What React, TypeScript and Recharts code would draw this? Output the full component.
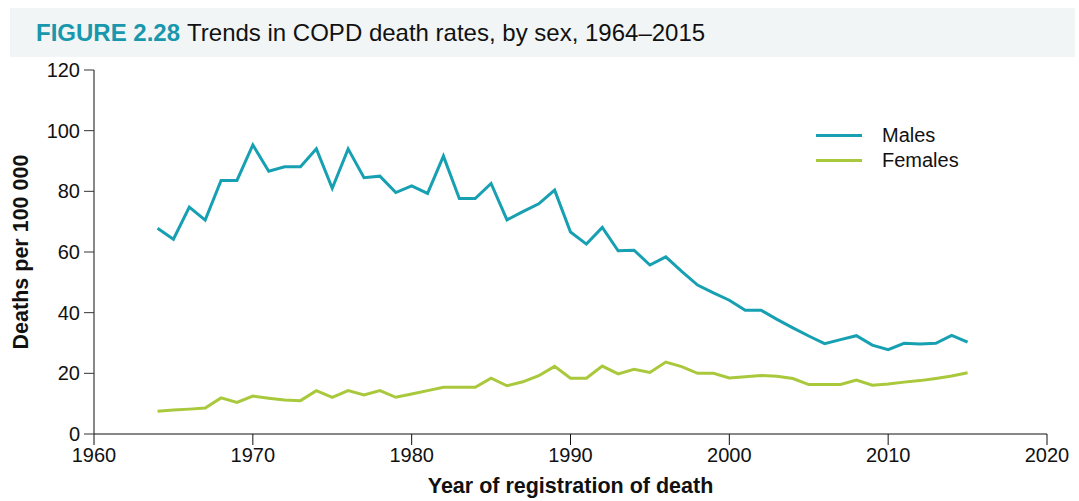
import { LineChart, Line, XAxis, YAxis } from 'recharts'

const years = [
  1964, 1965, 1966, 1967, 1968, 1969, 1970, 1971, 1972, 1973, 1974, 1975, 1976,
  1977, 1978, 1979, 1980, 1981, 1982, 1983, 1984, 1985, 1986, 1987, 1988, 1989,
  1990, 1991, 1992, 1993, 1994, 1995, 1996, 1997, 1998, 1999, 2000, 2001, 2002,
  2003, 2004, 2005, 2006, 2007, 2008, 2009, 2010, 2011, 2012, 2013, 2014, 2015,
]

const males = [
  67.8, 64.2, 74.8, 70.5, 83.6, 83.6, 95.3, 86.6, 88.1, 88.1, 94, 81, 94,
  84.5, 85, 79.6, 81.8, 79.3, 91.6, 77.6, 77.6, 82.6, 70.6, 73.3, 75.9, 80.4,
  66.6, 62.6, 68.1, 60.4, 60.6, 55.7, 58.4, 53.6, 49.1, 46.5, 44.1, 40.8, 40.8,
  37.8, 35, 32.3, 29.8, 31.1, 32.4, 29.3, 27.8, 29.9, 29.7, 29.9, 32.5, 30.3,
]

const females = [
  7.5, 7.9, 8.2, 8.6, 11.9, 10.4, 12.5, 11.8, 11.2, 11, 14.3, 12.1, 14.3,
  12.9, 14.3, 12.1, 13.2, 14.3, 15.4, 15.4, 15.4, 18.4, 15.9, 17.2, 19.2, 22.3,
  18.4, 18.4, 22.4, 19.8, 21.3, 20.3, 23.7, 22.2, 20, 20, 18.5, 18.9, 19.3,
  19, 18.3, 16.3, 16.3, 16.3, 17.8, 16.1, 16.5, 17.1, 17.6, 18.3, 19.1, 20.2,
]

const xTicks = [1960, 1970, 1980, 1990, 2000, 2010, 2020]
const yTicks = [0, 20, 40, 60, 80, 100, 120]

const MALE = '#16a0b2'
const FEMALE = '#a9c83c'
const FONT = '"Liberation Sans", Arial, Helvetica, sans-serif'

const data = years.map((year, i) => ({ year, males: males[i], females: females[i] }))

const legendItems = [
  { name: 'Males', color: MALE },
  { name: 'Females', color: FEMALE },
]

export default function App() {
  const tickStyle = { fontFamily: FONT, fontSize: 20, fill: '#111' }
  const labelStyle = { fontFamily: FONT, fontSize: 21.5, fontWeight: 'bold', fill: '#111' }
  return (
    <div style={{ position: 'absolute', left: 0, top: 0, width: 1079, height: 501, background: '#fff' }}>
      <div
        style={{
          position: 'absolute',
          left: 10,
          top: 8,
          width: 1065,
          height: 49,
          background: '#f1f5f6',
          fontFamily: FONT,
          fontSize: 24,
          lineHeight: '50px',
          paddingLeft: 26,
          boxSizing: 'border-box',
          color: '#111',
        }}
      >
        <span style={{ color: '#1897ad', fontWeight: 'bold' }}>FIGURE 2.28</span>
        <span style={{ marginLeft: 7 }}>Trends in COPD death rates, by sex, 1964–2015</span>
      </div>
      <LineChart
        width={1079}
        height={501}
        data={data}
        margin={{ top: 70, right: 32, bottom: 7, left: 0 }}
        style={{ position: 'absolute', left: 0, top: 0 }}
      >
        <XAxis
          dataKey="year"
          type="number"
          domain={[1960, 2020]}
          ticks={xTicks}
          interval={0}
          height={60}
          fontSize={20}
          fontFamily={FONT}
          tick={tickStyle}
          tickSize={11}
          tickMargin={3}
          stroke="#111"
          tickLine={{ stroke: '#111' }}
          label={{
            value: 'Year of registration of death',
            position: 'insideBottom',
            offset: 1,
            style: labelStyle,
          }}
        />
        <YAxis
          domain={[0, 120]}
          ticks={yTicks}
          interval={0}
          width={94}
          fontSize={20}
          fontFamily={FONT}
          tick={tickStyle}
          tickSize={10}
          tickMargin={4}
          stroke="#111"
          tickLine={{ stroke: '#333' }}
          label={{
            value: 'Deaths per 100 000',
            angle: -90,
            position: 'insideLeft',
            offset: 20,
            style: { ...labelStyle, textAnchor: 'middle' },
          }}
        />
        <Line
          dataKey="males"
          name="Males"
          stroke={MALE}
          strokeWidth={3}
          dot={false}
          isAnimationActive={false}
        />
        <Line
          dataKey="females"
          name="Females"
          stroke={FEMALE}
          strokeWidth={3}
          dot={false}
          isAnimationActive={false}
        />
      </LineChart>
      <div
        style={{
          position: 'absolute',
          left: 816,
          top: 123,
          fontFamily: FONT,
          fontSize: 20,
          color: '#111',
        }}
      >
        {legendItems.map((it) => (
          <div key={it.name} style={{ display: 'flex', alignItems: 'center', height: 25 }}>
            <span style={{ width: 46, height: 3, background: it.color, marginRight: 20 }} />
            {it.name}
          </div>
        ))}
      </div>
    </div>
  )
}
